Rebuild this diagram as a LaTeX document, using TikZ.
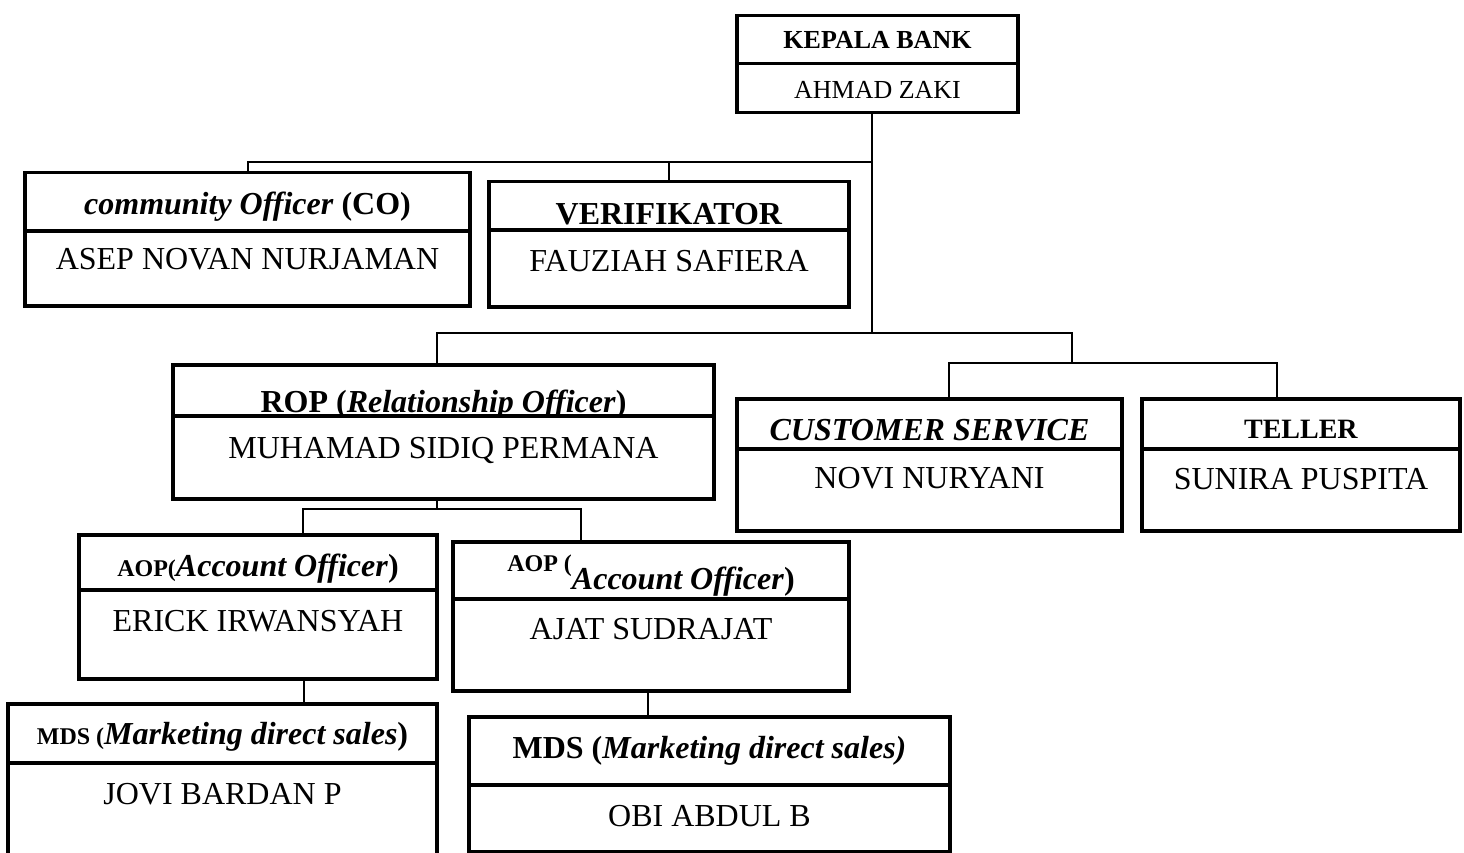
\documentclass[tikz,border=0pt]{standalone}
\usepackage{fontspec}
\setmainfont{Liberation Serif}
\newcommand{\kecil}{\fontsize{24}{24}\selectfont}
\begin{document}
\begin{tikzpicture}[x=1pt,y=-1pt]
	\tikzstyle{kotak}=[draw, line width=3.5pt, inner sep=0pt, anchor=north, font=\fontsize{32}{36}\selectfont]
	\tikzstyle{judul}=[kotak]
	\tikzstyle{nama}=[kotak, fill=white]
	\tikzstyle{garis}=[line width=2pt]
	\clip (0,0) rectangle (1464,853);
	% kepala bank
	\node[judul, minimum width=281pt, text height=33pt, text depth=15pt, font=\fontsize{26}{30}\selectfont] (kbH) at (877.5,14) {\textbf{KEPALA BANK}};
	\node[nama, minimum width=281pt, text height=35pt, text depth=14pt, font=\fontsize{26}{30}\selectfont] (kbN) at (877.5,62) {AHMAD ZAKI};
	% baris kedua
	\node[judul, minimum width=445pt, text height=42pt, text depth=16pt] (coH) at (247.5,171) {\textbf{\textit{community Officer} (CO)}};
	\node[nama, minimum width=445pt, text height=39pt, text depth=36pt] (coN) at (247.5,229) {ASEP NOVAN NURJAMAN};
	\node[judul, minimum width=360pt, text height=43pt, text depth=5pt] (verH) at (669,180) {\textbf{VERIFIKATOR}};
	\node[nama, minimum width=360pt, text height=42pt, text depth=35pt] (verN) at (669,228) {FAUZIAH SAFIERA};
	% baris ketiga
	\node[judul, minimum width=541pt, text height=48pt, text depth=3pt] (ropH) at (443.5,363) {\textbf{ROP (\textit{Relationship Officer})}};
	\node[nama, minimum width=541pt, text height=43pt, text depth=40pt] (ropN) at (443.5,414) {MUHAMAD SIDIQ PERMANA};
	\node[judul, minimum width=385pt, text height=42pt, text depth=8pt] (csH) at (929.5,397) {\textbf{\textit{CUSTOMER SERVICE}}};
	\node[nama, minimum width=385pt, text height=40pt, text depth=42pt] (csN) at (929.5,447) {NOVI NURYANI};
	\node[judul, minimum width=318pt, text height=40pt, text depth=10pt, font=\fontsize{28}{32}\selectfont] (tlH) at (1301,397) {\textbf{TELLER}};
	\node[nama, minimum width=318pt, text height=41pt, text depth=41pt] (tlN) at (1301,447) {SUNIRA PUSPITA};
	% account officer
	\node[judul, minimum width=358pt, text height=42pt, text depth=13pt] (aop1H) at (258,533) {\textbf{{\kecil AOP(}\textit{Account Officer})}};
	\node[nama, minimum width=358pt, text height=42pt, text depth=47pt] (aop1N) at (258,588) {ERICK IRWANSYAH};
	\node[judul, minimum width=396pt, text height=48pt, text depth=9pt] (aop2H) at (651,540) {\textbf{\raisebox{18pt}{\kecil AOP (}\textit{Account Officer})}};
	\node[nama, minimum width=396pt, text height=41pt, text depth=51pt] (aop2N) at (651,597) {AJAT SUDRAJAT};
	% marketing direct sales
	\node[judul, minimum width=429pt, text height=41pt, text depth=18pt] (mds1H) at (222.5,702) {\textbf{{\kecil MDS (}\textit{Marketing direct sales})}};
	\node[nama, minimum width=429pt, text height=42pt, text depth=77pt] (mds1N) at (222.5,761) {JOVI BARDAN P};
	\node[judul, minimum width=481pt, text height=42pt, text depth=26pt] (mds2H) at (709.5,715) {\textbf{MDS (\textit{Marketing direct sales)}}};
	\node[nama, minimum width=481pt, text height=42pt, text depth=25pt] (mds2N) at (709.5,783) {OBI ABDUL B};
	% garis penghubung
	\coordinate (t1) at (872,162);
	\coordinate (t2) at (872,333);
	\coordinate (t3) at (1072,363);
	\coordinate (t4) at (437,509);
	\coordinate (p1) at ([xshift=46pt]aop1N.south);
	\coordinate (p2) at ([xshift=-3pt]aop2N.south);
	\draw[garis] ([xshift=-5.5pt]kbN.south) -- (t2);
	\draw[garis] (coH.north) |- (t1);
	\draw[garis] (verH.north) -- (verH.north |- t1);
	\draw[garis] ([xshift=-6.5pt]ropH.north) |- (t2) -| (t3);
	\draw[garis] ([xshift=19.5pt]csH.north) |- (t3) -| ([xshift=-24pt]tlH.north);
	\draw[garis] ([xshift=-6.5pt]ropN.south) -- (t4);
	\draw[garis] ([xshift=45pt]aop1H.north) |- (t4) -| ([xshift=-70pt]aop2H.north);
	\draw[garis] (p1) -- (p1 |- mds1H.north);
	\draw[garis] (p2) -- (p2 |- mds2H.north);
\end{tikzpicture}
\end{document}
